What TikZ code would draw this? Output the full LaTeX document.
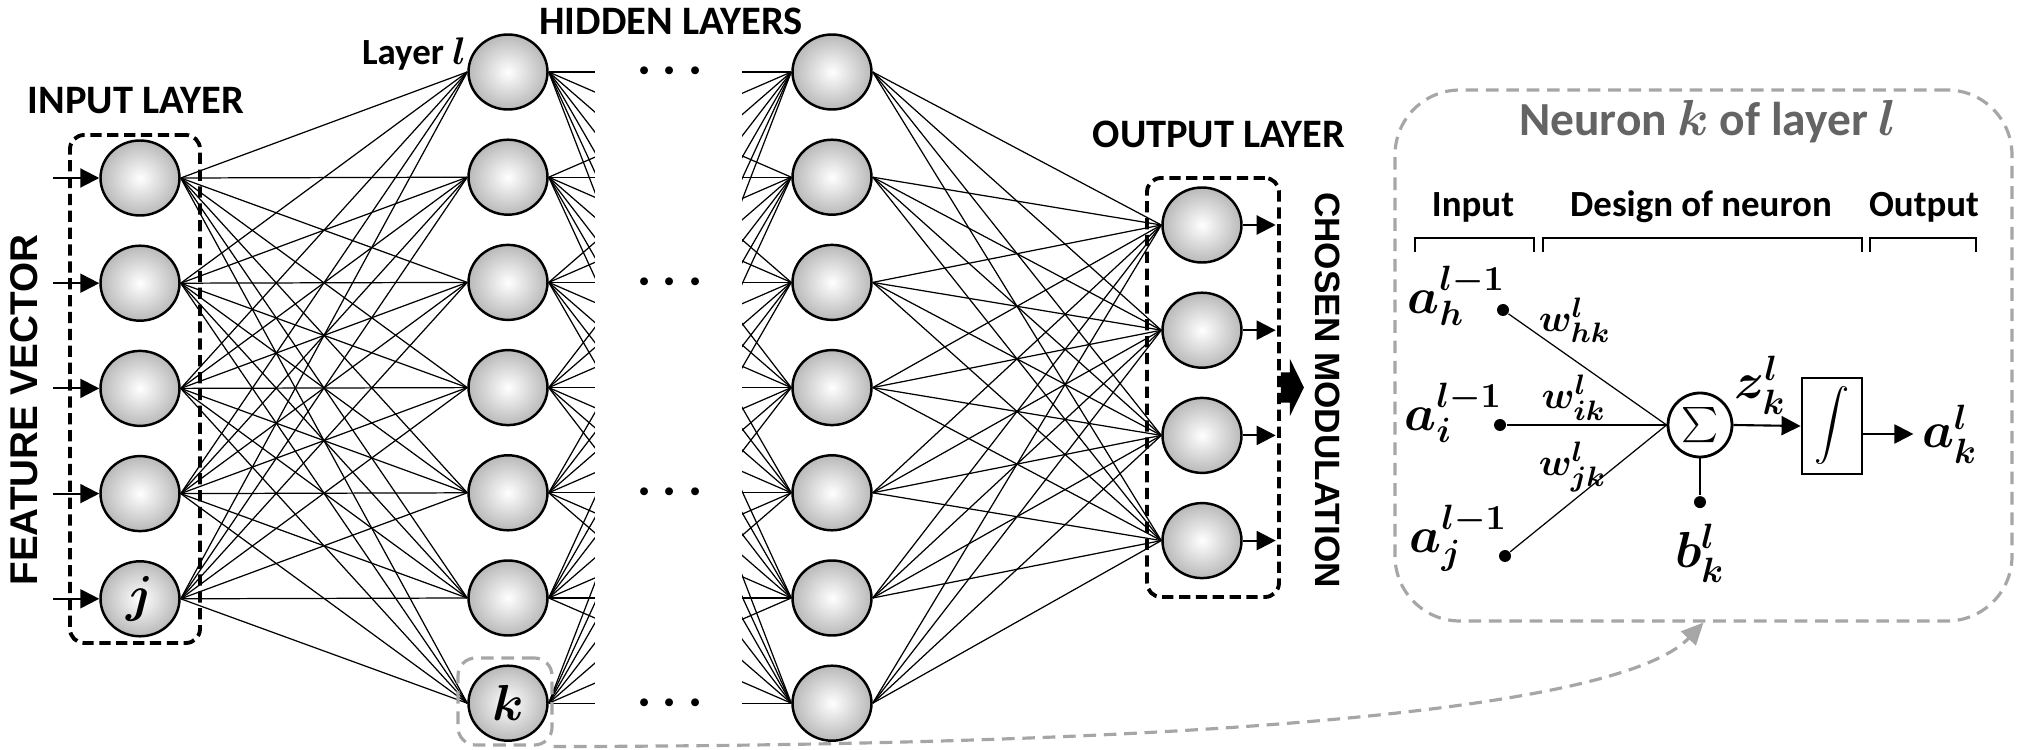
\documentclass[tikz,border=0pt]{standalone}
\usepackage{fontspec}
\setmainfont{Carlito}
\newfontfamily\arialfont{Liberation Sans}
\usetikzlibrary{positioning,fit,calc,arrows.meta,shapes.geometric}

\definecolor{dashgray}{RGB}{166,166,166}
\definecolor{titlegray}{RGB}{100,100,100}

\tikzset{
	neuron/.style={ellipse,draw,line width=0.7pt,minimum width=0.79cm,minimum height=0.75cm,inner sep=0pt,shading=radial,inner color=white,outer color=gray!55},
	wire/.style={line width=0.35pt},
	feed/.style={line width=0.6pt,-{Triangle[length=0.19cm,width=0.19cm]}},
	blackdash/.style={draw,line width=1.1pt,dash pattern=on 3.2pt off 1.6pt,rounded corners=4pt,inner sep=0pt},
	graydash/.style={draw=dashgray,line width=0.9pt,dash pattern=on 3.6pt off 2.2pt,inner sep=0pt},
	layertitle/.style={font=\bfseries\fontsize{11.5}{12}\selectfont},
	sidetitle/.style={font=\arialfont\bfseries\fontsize{#1}{12}\selectfont},
	colhead/.style={font=\bfseries\fontsize{10.5}{12}\selectfont},
	tapdot/.style={circle,fill=black,minimum size=0.12cm,inner sep=0pt},
	mathlab/.style={inner sep=0pt,font=\fontsize{#1}{16}\selectfont\boldmath},
	bracket/.style={line width=0.7pt}
}

\begin{document}
\begin{tikzpicture}[node distance=1.052cm]
	\useasboundingbox (0,0) rectangle (20.25,7.5);

	\node[neuron] (in1) at (1.40,5.72) {};
	\node[neuron,below of=in1] (in2) {};
	\node[neuron,below of=in2] (in3) {};
	\node[neuron,below of=in3] (in4) {};
	\node[neuron,below of=in4,font=\fontsize{15}{15}\selectfont\boldmath] (in5) {$j$};

	\node[neuron] (l1) at (5.08,6.78) {};
	\node[neuron,below of=l1] (l2) {};
	\node[neuron,below of=l2] (l3) {};
	\node[neuron,below of=l3] (l4) {};
	\node[neuron,below of=l4] (l5) {};
	\node[neuron,below of=l5] (l6) {};
	\node[neuron,below of=l6,font=\fontsize{15}{15}\selectfont\boldmath] (l7) {$k$};

	\node[neuron] (h1) at (8.32,6.78) {};
	\node[neuron,below of=h1] (h2) {};
	\node[neuron,below of=h2] (h3) {};
	\node[neuron,below of=h3] (h4) {};
	\node[neuron,below of=h4] (h5) {};
	\node[neuron,below of=h5] (h6) {};
	\node[neuron,below of=h6] (h7) {};

	\node[neuron] (o1) at (12.02,5.25) {};
	\node[neuron,below of=o1] (o2) {};
	\node[neuron,below of=o2] (o3) {};
	\node[neuron,below of=o3] (o4) {};

	\foreach \i in {1,...,5}
		\foreach \j in {1,...,7}
			\draw[wire] (in\i.east) -- (l\j.west);
	\foreach \i in {1,...,7}
		\foreach \j in {1,...,7}
			\draw[wire] (l\i.east) -- (h\j.west);
	\fill[white] (5.95,0.2) rectangle (7.42,7.02);
	\foreach \i in {1,...,7}
		\foreach \j in {1,...,4}
			\draw[wire] (h\i.east) -- (o\j.west);

	\foreach \r in {1,3,5,7}
		\node[font=\fontsize{15}{15}\selectfont\boldmath] (dots\r) at ($(l\r)!0.5!(h\r)$) {$\cdots$};

	\foreach \i in {1,...,5} {
		\coordinate (src\i) at ([xshift=-0.46cm]in\i.west);
		\draw[feed] (src\i) -- (in\i.west);
	}
	\foreach \i in {1,...,4} {
		\coordinate (dst\i) at ([xshift=0.33cm]o\i.east);
		\draw[feed] (o\i.east) -- (dst\i);
	}

	\node[blackdash,fit={(0.70,1.07) (2.00,6.15)}] (inbox) {};
	\node[blackdash,fit={(11.47,1.53) (12.79,5.72)}] (outbox) {};
	\node[graydash,rounded corners=5pt,fit={(4.58,0.05) (5.52,0.92)}] (kbox) {};
	\node[graydash,rounded corners=0.65cm,fit={(13.95,1.29) (20.12,6.60)}] (panel) {};

	\fill (outbox.east) ++(0,0.15) -- ++(0.09,0) -- ++(0,0.135) -- ++(0.14,-0.285)
		-- ++(-0.14,-0.285) -- ++(0,0.135) -- ++(-0.09,0) -- cycle;

	\node[layertitle] (inlab) at (1.36,6.49) {INPUT LAYER};
	\node[layertitle] (hidlab) at (6.71,7.285) {HIDDEN LAYERS};
	\node[layertitle] (outlab) at (12.19,6.155) {OUTPUT LAYER};
	\node[font=\bfseries\fontsize{10.5}{12}\selectfont] (laylab) at (4.14,6.96) {Layer {\boldmath$l$}};
	\node[sidetitle=11,rotate=90] (featlab) at (0.24,3.40) {FEATURE VECTOR};
	\node[sidetitle=10,rotate=-90] (modlab) at (13.28,3.60) {CHOSEN MODULATION};

	\draw[dashgray,line width=0.9pt,dash pattern=on 3.6pt off 2.2pt,-{Triangle[length=0.22cm,width=0.2cm]}]
		(kbox.south east) .. controls (13.0,0.05) and (16.3,0.5) .. (panel.south);

	\node[font=\bfseries\fontsize{13.5}{14}\selectfont,text=titlegray] (ptitle) at (17.08,6.28) {Neuron {\boldmath$k$} of layer {\boldmath$l$}};
	\node[colhead] (hin) at (14.73,5.43) {Input};
	\node[colhead] (hdes) at (17.01,5.43) {Design of neuron};
	\node[colhead] (hout) at (19.24,5.43) {Output};
	\draw[bracket] (14.15,4.98) -- (14.15,5.12) -- (15.34,5.12) -- (15.34,4.98);
	\draw[bracket] (15.43,4.98) -- (15.43,5.12) -- (18.62,5.12) -- (18.62,4.98);
	\draw[bracket] (18.70,4.98) -- (18.70,5.12) -- (19.76,5.12) -- (19.76,4.98);

	\node[tapdot] (ah) at (15.03,4.40) {};
	\node[tapdot] (ai) at (15.00,3.25) {};
	\node[tapdot] (aj) at (15.05,1.94) {};
	\node[mathlab=14,left=-0.10cm of ah,yshift=0.14cm] (ahlab) {$a_h^{l-1}$};
	\node[mathlab=14,left=-0.10cm of ai,yshift=0.12cm] (ailab) {$a_i^{l-1}$};
	\node[mathlab=14,left=-0.10cm of aj,yshift=0.18cm] (ajlab) {$a_j^{l-1}$};

	\node[circle,draw,line width=0.8pt,minimum size=0.64cm,inner sep=0pt] (sum) at (17.00,3.25) {\large$\sum$};
	\node[tapdot,below=0.37cm of sum] (bias) {};
	\node[mathlab=14,below=0.15cm of bias] (blab) {$b_k^l$};
	\node[draw,line width=0.8pt,minimum width=0.60cm,minimum height=0.96cm,inner sep=0pt] (act) at (18.32,3.24) {$\displaystyle\int$};
	\node[mathlab=14,right=0.58cm of act,yshift=-0.08cm] (aklab) {$a_k^l$};

	\draw[wire] (ah) -- (sum.west) node[mathlab=11,pos=0.42,above=0.17cm] (whk) {$w_{hk}^l$};
	\draw[wire] (ai) -- (sum.west) node[mathlab=11,pos=0.42,above=0.04cm] (wik) {$w_{ik}^l$};
	\draw[wire] (aj) -- (sum.west) node[mathlab=11,pos=0.40,above=0.08cm] (wjk) {$w_{jk}^l$};
	\draw[wire] (sum.south) -- (bias);
	\draw[feed] (sum.east) -- (act.west) node[mathlab=14,pos=0.4,above=0.1cm] (zlab) {$z_k^l$};
	\draw[feed,shorten >=0.08cm] (act.east |- aklab.west) -- (aklab.west);
\end{tikzpicture}
\end{document}
